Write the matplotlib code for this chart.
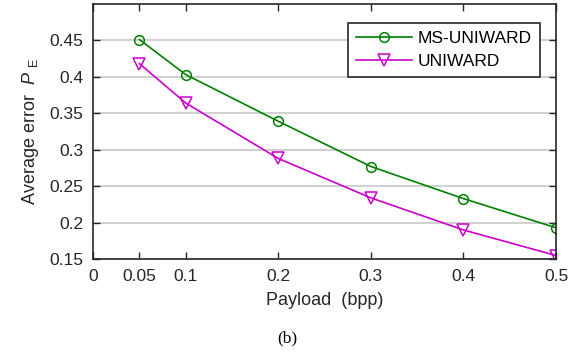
import numpy as np
import matplotlib
matplotlib.use("Agg")
import matplotlib.pyplot as plt

payload = [0.05, 0.1, 0.2, 0.3, 0.4, 0.5]
ms_uniward = [0.451, 0.403, 0.339, 0.277, 0.233, 0.193]
uniward = [0.418, 0.364, 0.288, 0.234, 0.190, 0.155]
xticks = [0, 0.05, 0.1, 0.2, 0.3, 0.4, 0.5]
yticks = [0.15, 0.2, 0.25, 0.3, 0.35, 0.4, 0.45]

plt.rcParams['font.family'] = ['Liberation Sans', 'DejaVu Sans']
plt.rcParams['mathtext.fontset'] = 'custom'
plt.rcParams['mathtext.it'] = 'Liberation Sans:italic'
plt.rcParams['mathtext.rm'] = 'Liberation Sans'

fig = plt.figure(figsize=(5.75, 3.55), dpi=100)
ax = fig.add_axes([0.162, 0.270, 0.805, 0.719])

ax.plot(payload, ms_uniward, color='#008000', marker='o', ms=7, mfc='none',
        mew=1.1, lw=1.2, label='MS-UNIWARD')
ax.plot(payload, uniward, color='#cc00cc', marker='v', ms=8, mfc='none',
        mew=1.1, lw=1.2, label='UNIWARD')

ax.set_xlim(0, 0.5)
ax.set_ylim(0.15, 0.4999)
ax.set_xticks(xticks)
ax.set_xticklabels(['0', '0.05', '0.1', '0.2', '0.3', '0.4', '0.5'])
ax.set_yticks(yticks)
ax.set_yticklabels(['0.15', '0.2', '0.25', '0.3', '0.35', '0.4', '0.45'])
ax.tick_params(direction='in', top=True, right=True, labelsize=12.5,
               length=5, width=1, colors='#262626', pad=7)
ax.yaxis.grid(True, color='#c8c8c8', lw=1.2)
ax.set_axisbelow(True)
for s in ax.spines.values():
    s.set_linewidth(1.2)
    s.set_color('#262626')

ax.set_xlabel('Payload  (bpp)', fontsize=13, color='#262626', labelpad=6)
ax.set_ylabel(r'Average error  $P$ $_{\mathrm{E}}$', fontsize=13, color='#262626', labelpad=6)

leg = ax.legend(loc='upper left', bbox_to_anchor=(0.551, 0.925), borderaxespad=0,
                fontsize=12.5, fancybox=False, edgecolor='#262626', framealpha=1,
                handlelength=3.2, handletextpad=0.35, borderpad=0.45,
                labelspacing=0.45)
leg.get_frame().set_linewidth(1.2)

fig.text(0.5, 0.035, '(b)', family='Liberation Serif', fontsize=12.5, ha='center')

fig.savefig('out.png', dpi=100)
